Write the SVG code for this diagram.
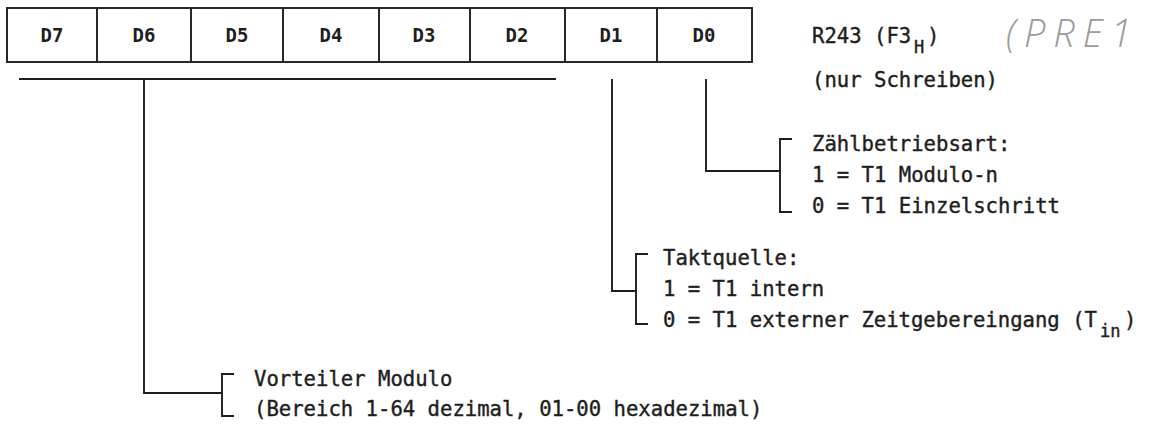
<svg xmlns="http://www.w3.org/2000/svg" width="1176" height="425" viewBox="0 0 1176 425">
<style>
.ln{stroke:#1e1e1e;stroke-width:1.9;fill:none}
.cell{font-family:"DejaVu Sans Mono","Liberation Mono",monospace;font-size:19px;font-weight:bold;fill:#1e1e1e;text-anchor:middle}
.t{font-family:"DejaVu Sans Mono","Liberation Mono",monospace;font-size:20.6px;fill:#1e1e1e;stroke:#1e1e1e;stroke-width:0.4}
.sub{font-family:"DejaVu Sans Mono","Liberation Mono",monospace;font-size:17px;fill:#1e1e1e;stroke:#1e1e1e;stroke-width:0.4}
.hw{font-family:"Open Sans","Liberation Sans",sans-serif;font-style:italic;font-weight:300;font-size:38px;fill:#9a9a9a;letter-spacing:8px}
</style>
<rect width="1176" height="425" fill="#ffffff"/>
<g id="register">
<rect class="ln" x="7" y="8" width="745" height="54"/>
<line class="ln" x1="97" y1="8" x2="97" y2="62"/>
<line class="ln" x1="191" y1="8" x2="191" y2="62"/>
<line class="ln" x1="283" y1="8" x2="283" y2="62"/>
<line class="ln" x1="379" y1="8" x2="379" y2="62"/>
<line class="ln" x1="470" y1="8" x2="470" y2="62"/>
<line class="ln" x1="565" y1="8" x2="565" y2="62"/>
<line class="ln" x1="657" y1="8" x2="657" y2="62"/>
<text class="cell" x="52" y="42">D7</text>
<text class="cell" x="144" y="42">D6</text>
<text class="cell" x="237" y="42">D5</text>
<text class="cell" x="331" y="42">D4</text>
<text class="cell" x="424" y="42">D3</text>
<text class="cell" x="517" y="42">D2</text>
<text class="cell" x="611" y="42">D1</text>
<text class="cell" x="704" y="42">D0</text>
</g>
<g id="title">
<text class="t" x="812" y="43">R243 (F3</text>
<text class="sub" x="914" y="53">H</text>
<text class="t" x="927" y="43">)</text>
<text class="t" x="812" y="87">(nur Schreiben)</text>
<text class="hw" x="1006" y="47">(PRE1</text>
</g>
<g id="connectors">
<line class="ln" x1="19" y1="79" x2="556" y2="79"/>
<polyline class="ln" points="144,79 144,393 222,393"/>
<polyline class="ln" points="612,79 612,291 636,291"/>
<polyline class="ln" points="706,79 706,171 780,171"/>
</g>
<g id="zaehlbetriebsart">
<polyline class="ln" points="792,139 780,139 780,212 792,212"/>
<text class="t" x="812" y="151">Zählbetriebsart:</text>
<text class="t" x="812" y="182">1 = T1 Modulo-n</text>
<text class="t" x="812" y="213">0 = T1 Einzelschritt</text>
</g>
<g id="taktquelle">
<polyline class="ln" points="648,254 636,254 636,324 648,324"/>
<text class="t" x="663" y="265">Taktquelle:</text>
<text class="t" x="663" y="296">1 = T1 intern</text>
<text class="t" x="663" y="327">0 = T1 externer Zeitgebereingang (T</text>
<text class="sub" x="1100" y="337">in</text>
<text class="t" x="1124" y="327">)</text>
</g>
<g id="vorteiler">
<polyline class="ln" points="234,374 222,374 222,416 234,416"/>
<text class="t" x="254" y="386">Vorteiler Modulo</text>
<text class="t" x="254" y="416">(Bereich 1-64 dezimal, 01-00 hexadezimal)</text>
</g>
</svg>
